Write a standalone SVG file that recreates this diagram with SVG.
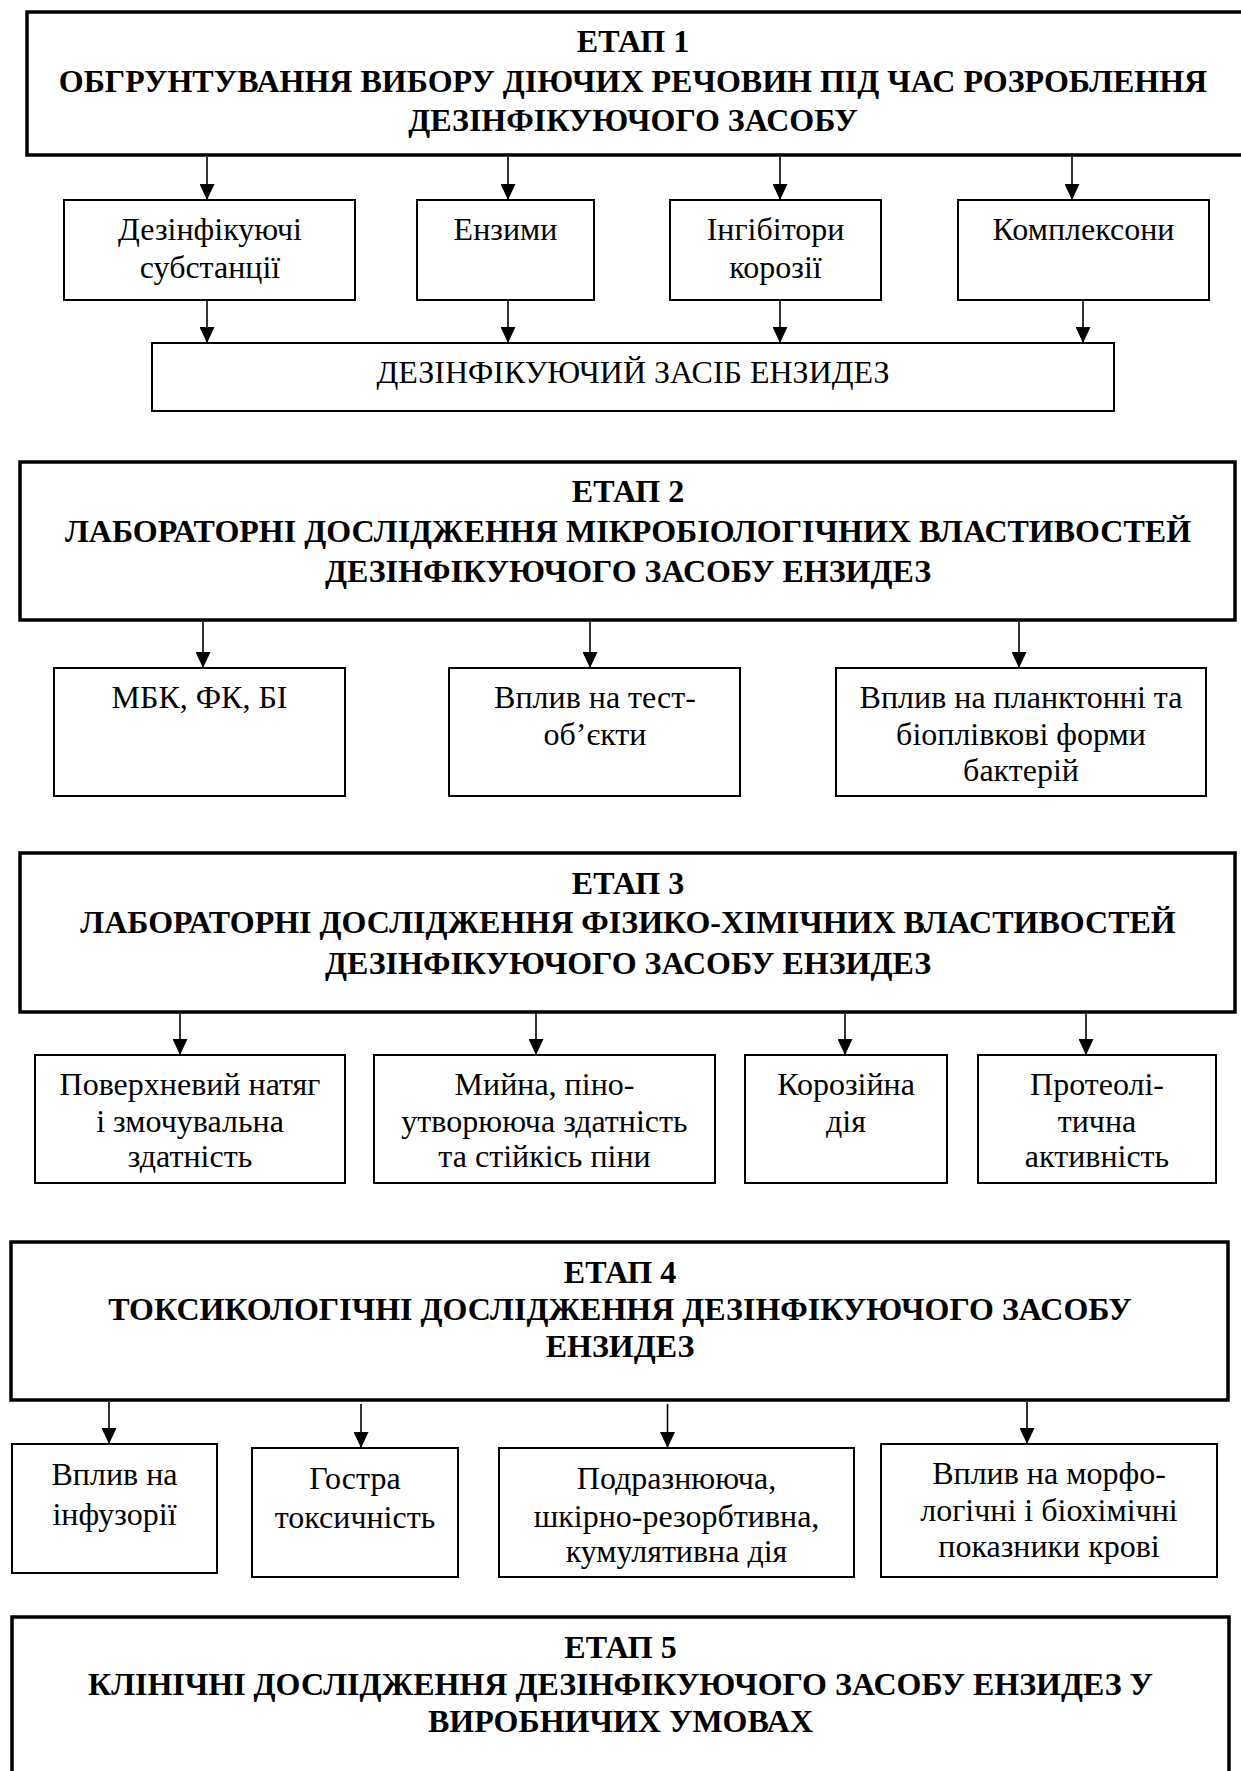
<svg xmlns="http://www.w3.org/2000/svg" width="1241" height="1771" viewBox="0 0 1241 1771">
<style>
.stage{fill:#fff;stroke:#000;stroke-width:3.5}
.box{fill:#fff;stroke:#000;stroke-width:2}
.h{font-family:"Liberation Serif","Times New Roman",serif;font-weight:bold;font-size:32px;text-anchor:middle;fill:#000}
.t{font-family:"Liberation Serif","Times New Roman",serif;font-size:32px;text-anchor:middle;fill:#000}
.c{stroke:#000;stroke-width:1.6;fill:none;marker-end:url(#ah)}
</style>
<defs>
<marker id="ah" markerUnits="userSpaceOnUse" markerWidth="16" markerHeight="15" refX="16" refY="7.5" orient="auto" viewBox="0 0 16 15">
<path d="M0,0 L16,7.5 L0,15 z" fill="#000"/>
</marker>
</defs>
<rect width="1241" height="1771" fill="#fff"/>

<g id="stage1">
<rect class="stage" x="27" y="12" width="1222" height="143"/>
<text class="h" x="633" y="52">ЕТАП 1</text>
<text class="h" x="633" y="92">ОБГРУНТУВАННЯ ВИБОРУ ДІЮЧИХ РЕЧОВИН ПІД ЧАС РОЗРОБЛЕННЯ</text>
<text class="h" x="633" y="131">ДЕЗІНФІКУЮЧОГО ЗАСОБУ</text>
</g>
<g id="s1-dez">
<rect class="box" x="64" y="200" width="291" height="100"/>
<text class="t" x="210" y="240">Дезінфікуючі</text>
<text class="t" x="210" y="278">субстанції</text>
</g>
<g id="s1-enz">
<rect class="box" x="417" y="200" width="177" height="100"/>
<text class="t" x="505.5" y="240">Ензими</text>
</g>
<g id="s1-ing">
<rect class="box" x="670" y="200" width="211" height="100"/>
<text class="t" x="775.5" y="240">Інгібітори</text>
<text class="t" x="775.5" y="278">корозії</text>
</g>
<g id="s1-kom">
<rect class="box" x="958" y="200" width="251" height="100"/>
<text class="t" x="1083.5" y="240">Комплексони</text>
</g>
<g id="s1-result">
<rect class="box" x="152" y="343" width="962" height="68"/>
<text class="t" x="633" y="383">ДЕЗІНФІКУЮЧИЙ ЗАСІБ ЕНЗИДЕЗ</text>
</g>

<g id="stage2">
<rect class="stage" x="20" y="462" width="1215" height="158"/>
<text class="h" x="628" y="502">ЕТАП 2</text>
<text class="h" x="628" y="542">ЛАБОРАТОРНІ ДОСЛІДЖЕННЯ МІКРОБІОЛОГІЧНИХ ВЛАСТИВОСТЕЙ</text>
<text class="h" x="628" y="582">ДЕЗІНФІКУЮЧОГО ЗАСОБУ ЕНЗИДЕЗ</text>
</g>
<g id="s2-mbk">
<rect class="box" x="54" y="668" width="291" height="128"/>
<text class="t" x="199.5" y="708">МБК, ФК, БІ</text>
</g>
<g id="s2-test">
<rect class="box" x="449" y="668" width="291" height="128"/>
<text class="t" x="595" y="708">Вплив на тест-</text>
<text class="t" x="595" y="745">об’єкти</text>
</g>
<g id="s2-plankt">
<rect class="box" x="836" y="668" width="370" height="128"/>
<text class="t" x="1021" y="708">Вплив на планктонні та</text>
<text class="t" x="1021" y="745">біоплівкові форми</text>
<text class="t" x="1021" y="781">бактерій</text>
</g>

<g id="stage3">
<rect class="stage" x="20" y="853" width="1215" height="159"/>
<text class="h" x="628" y="894">ЕТАП 3</text>
<text class="h" x="628" y="933">ЛАБОРАТОРНІ ДОСЛІДЖЕННЯ ФІЗИКО-ХІМІЧНИХ ВЛАСТИВОСТЕЙ</text>
<text class="h" x="628" y="974">ДЕЗІНФІКУЮЧОГО ЗАСОБУ ЕНЗИДЕЗ</text>
</g>
<g id="s3-surf">
<rect class="box" x="35" y="1055" width="310" height="128"/>
<text class="t" x="190" y="1095">Поверхневий натяг</text>
<text class="t" x="190" y="1132">і змочувальна</text>
<text class="t" x="190" y="1167">здатність</text>
</g>
<g id="s3-foam">
<rect class="box" x="374" y="1055" width="341" height="128"/>
<text class="t" x="544.5" y="1095">Мийна, піно-</text>
<text class="t" x="544.5" y="1132">утворююча здатність</text>
<text class="t" x="544.5" y="1167">та стійкісь піни</text>
</g>
<g id="s3-corr">
<rect class="box" x="745" y="1055" width="202" height="128"/>
<text class="t" x="846" y="1095">Корозійна</text>
<text class="t" x="846" y="1132">дія</text>
</g>
<g id="s3-prot">
<rect class="box" x="978" y="1055" width="238" height="128"/>
<text class="t" x="1097" y="1095">Протеолі-</text>
<text class="t" x="1097" y="1132">тична</text>
<text class="t" x="1097" y="1167">активність</text>
</g>

<g id="stage4">
<rect class="stage" x="11" y="1242" width="1217" height="158"/>
<text class="h" x="620" y="1283">ЕТАП 4</text>
<text class="h" x="620" y="1320">ТОКСИКОЛОГІЧНІ ДОСЛІДЖЕННЯ ДЕЗІНФІКУЮЧОГО ЗАСОБУ</text>
<text class="h" x="620" y="1357">ЕНЗИДЕЗ</text>
</g>
<g id="s4-inf">
<rect class="box" x="12" y="1444" width="205" height="129"/>
<text class="t" x="114.5" y="1485">Вплив на</text>
<text class="t" x="114.5" y="1525">інфузорії</text>
</g>
<g id="s4-tox">
<rect class="box" x="252" y="1448" width="206" height="129"/>
<text class="t" x="355" y="1489">Гостра</text>
<text class="t" x="355" y="1528">токсичність</text>
</g>
<g id="s4-irr">
<rect class="box" x="499" y="1448" width="355" height="129"/>
<text class="t" x="676.5" y="1489">Подразнююча,</text>
<text class="t" x="676.5" y="1527">шкірно-резорбтивна,</text>
<text class="t" x="676.5" y="1562">кумулятивна дія</text>
</g>
<g id="s4-blood">
<rect class="box" x="881" y="1444" width="336" height="133"/>
<text class="t" x="1049" y="1484">Вплив на морфо-</text>
<text class="t" x="1049" y="1521">логічні і біохімічні</text>
<text class="t" x="1049" y="1557">показники крові</text>
</g>

<g id="stage5">
<rect class="stage" x="12" y="1617" width="1217" height="170"/>
<text class="h" x="620.5" y="1658">ЕТАП 5</text>
<text class="h" x="620.5" y="1695">КЛІНІЧНІ ДОСЛІДЖЕННЯ ДЕЗІНФІКУЮЧОГО ЗАСОБУ ЕНЗИДЕЗ У</text>
<text class="h" x="620.5" y="1732">ВИРОБНИЧИХ УМОВАХ</text>
</g>

<g id="connectors">
<line class="c" x1="207" y1="157" x2="207" y2="200"/>
<line class="c" x1="508" y1="157" x2="508" y2="200"/>
<line class="c" x1="780" y1="157" x2="780" y2="200"/>
<line class="c" x1="1072" y1="157" x2="1072" y2="200"/>
<line class="c" x1="207" y1="301" x2="207" y2="343"/>
<line class="c" x1="508" y1="301" x2="508" y2="343"/>
<line class="c" x1="780" y1="301" x2="780" y2="343"/>
<line class="c" x1="1083" y1="301" x2="1083" y2="343"/>
<line class="c" x1="203" y1="622" x2="203" y2="668"/>
<line class="c" x1="590" y1="622" x2="590" y2="668"/>
<line class="c" x1="1019" y1="622" x2="1019" y2="668"/>
<line class="c" x1="180" y1="1014" x2="180" y2="1055"/>
<line class="c" x1="536" y1="1014" x2="536" y2="1055"/>
<line class="c" x1="845" y1="1014" x2="845" y2="1055"/>
<line class="c" x1="1086" y1="1014" x2="1086" y2="1055"/>
<line class="c" x1="109" y1="1402" x2="109" y2="1444"/>
<line class="c" x1="361" y1="1404" x2="361" y2="1448"/>
<line class="c" x1="667.5" y1="1404" x2="667.5" y2="1448"/>
<line class="c" x1="1027" y1="1402" x2="1027" y2="1444"/>
</g>
</svg>
